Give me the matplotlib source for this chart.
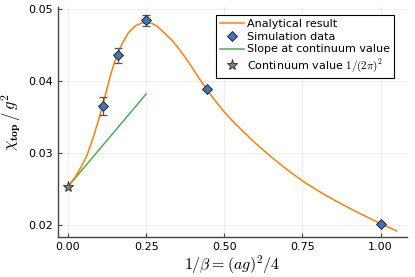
import matplotlib
matplotlib.use("Agg")
import matplotlib.pyplot as plt

plt.rcParams['mathtext.fontset'] = 'cm'
plt.rcParams['font.family'] = ['DejaVu Sans']

# Analytical curve
curve_x = [0.0, 0.022, 0.040, 0.060, 0.081, 0.102, 0.118, 0.134, 0.150, 0.172,
           0.193, 0.215, 0.235, 0.252, 0.268, 0.284, 0.310, 0.335, 0.358, 0.380,
           0.400, 0.420, 0.443, 0.470, 0.500, 0.525, 0.550, 0.600, 0.650, 0.700,
           0.750, 0.800, 0.850, 0.900, 0.950, 1.000, 1.050]
curve_y = [0.02533, 0.02660, 0.02790, 0.02960, 0.03220, 0.03520, 0.03780, 0.04050,
           0.04280, 0.04510, 0.04670, 0.04765, 0.04805, 0.04810, 0.04800, 0.04765,
           0.04660, 0.04555, 0.04430, 0.04300, 0.04168, 0.04035, 0.03890, 0.03730,
           0.03570, 0.03450, 0.03342, 0.03135, 0.02945, 0.02772, 0.02612, 0.02475,
           0.02350, 0.02235, 0.02125, 0.02020, 0.01920]

# Simulation data
sim_x = [1/9, 0.16, 0.25, 4/9, 1.0]
sim_y = [0.03657, 0.04361, 0.04843, 0.03885, 0.02010]
sim_err = [0.00127, 0.00104, 0.00075, 0.00015, 0.00012]

# Slope at continuum value
slope_x = [0.0, 0.25]
slope_y = [0.02533, 0.0382]

# Continuum value
cont_x = [0.0]
cont_y = [0.02533]

xticks = [0.0, 0.25, 0.5, 0.75, 1.0]
xticklabels = ["0.00", "0.25", "0.50", "0.75", "1.00"]
yticks = [0.02, 0.03, 0.04, 0.05]
yticklabels = ["0.02", "0.03", "0.04", "0.05"]

fig = plt.figure(figsize=(4.15, 2.77), dpi=100)
ax = fig.add_axes([0.139, 0.1433, 0.842, 0.8303])

ax.plot(curve_x, curve_y, color='#ff7f0e', lw=1.1, label='Analytical result', zorder=3)
ax.errorbar(sim_x, sim_y, yerr=sim_err, fmt='none', ecolor='#555555', elinewidth=0.9,
            capsize=3, capthick=0.9, zorder=4)
ax.plot(sim_x, sim_y, ls='none', marker='D', ms=4.6, mfc='#3a78b5', mec='#1a1a1a',
        mew=0.6, label='Simulation data', zorder=5)
ax.plot(slope_x, slope_y, color='#4caf50', lw=1.1, label='Slope at continuum value', zorder=2)
ax.plot(cont_x, cont_y, ls='none', marker='*', ms=8, mfc='#808080', mec='#2a2a2a',
        mew=0.6, label=r'Continuum value $1/(2\pi)^2$', zorder=6)

ax.set_xlim(-0.0329, 1.0847)
ax.set_ylim(0.01829, 0.05024)
ax.set_xticks(xticks)
ax.set_xticklabels(xticklabels)
ax.set_yticks(yticks)
ax.set_yticklabels(yticklabels)

ax.grid(True, color='black', alpha=0.08, lw=0.6)
for s in ['top', 'right']:
    ax.spines[s].set_visible(False)
for s in ['left', 'bottom']:
    ax.spines[s].set_color('#444444')
    ax.spines[s].set_linewidth(1.0)
ax.tick_params(direction='in', length=3, width=0.8, color='#444444', labelsize=8,
               pad=3.5)

ax.set_xlabel(r'$1/\beta = (ag)^2/4$', fontsize=11.5)
ax.set_ylabel(r'$\chi_{\mathbf{top}}\,/\,g^2$', fontsize=12)
ax.xaxis.set_label_coords(0.5, -0.072)
ax.yaxis.set_label_coords(-0.100, 0.5)

leg = ax.legend(loc='upper right', bbox_to_anchor=(0.963, 0.9665), fontsize=8,
                frameon=True, fancybox=False, framealpha=1, edgecolor='black',
                borderaxespad=0, handlelength=2.2, handletextpad=0.3,
                labelspacing=0.25, borderpad=0.35)
leg.get_frame().set_linewidth(0.8)

fig.savefig('out.png', dpi=100)
